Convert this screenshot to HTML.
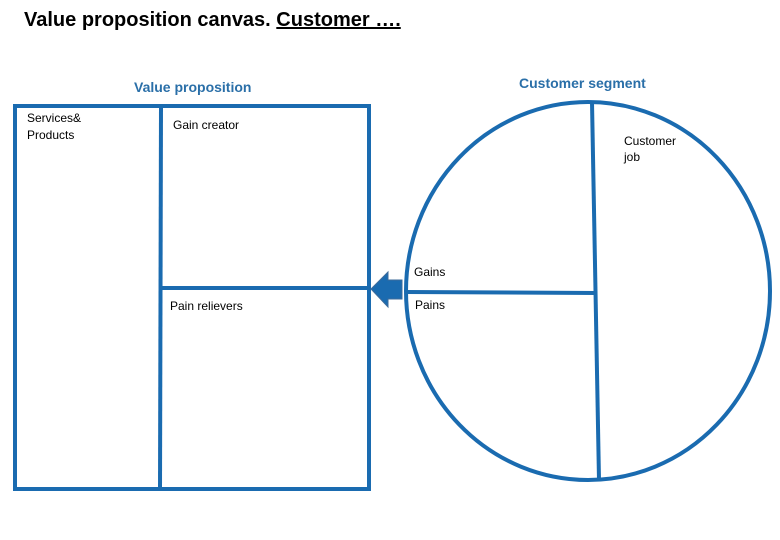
<!DOCTYPE html>
<html><head><style>
body{margin:0;background:#fff;}
.t{position:absolute;font-family:"Liberation Sans",sans-serif;}
</style></head><body>
<div style="position:relative;width:780px;height:540px;overflow:hidden;">
<div class="t" style="left:24px;top:9px;font-size:20px;font-weight:bold;color:#000;">Value proposition canvas. <span style="text-decoration:underline">Customer ….</span></div>
<svg width="780" height="540" style="position:absolute;left:0;top:0">
<g stroke="#1a6bb0" stroke-width="4" fill="none">
<rect x="15" y="106" width="354" height="383"/>
<line x1="161" y1="106" x2="160" y2="489"/>
<line x1="161" y1="288" x2="369" y2="288"/>
<ellipse cx="588" cy="291" rx="182" ry="189"/>
<line x1="592" y1="102" x2="599" y2="480"/>
<line x1="406" y1="292" x2="597" y2="293"/>
</g>
<polygon points="371,289 388,272 388,280 402,280 402,299 388,299 388,307" fill="#1a6bb0" stroke="#3d6b9a" stroke-width="1"/>
<g font-family="Liberation Sans, sans-serif" font-size="12" fill="#000">
<text x="27" y="122">Services&amp;</text>
<text x="27" y="139">Products</text>
<text x="173" y="129">Gain creator</text>
<text x="170" y="310">Pain relievers</text>
<text x="414" y="276">Gains</text>
<text x="415" y="309">Pains</text>
<text x="624" y="145">Customer</text>
<text x="624" y="161">job</text>
</g>
<g font-family="Liberation Sans, sans-serif" font-size="14" fill="#2a6fa8" font-weight="bold">
<text x="134" y="92">Value proposition</text>
<text x="519" y="88">Customer segment</text>
</g>
</svg>
</div>
</body></html>
